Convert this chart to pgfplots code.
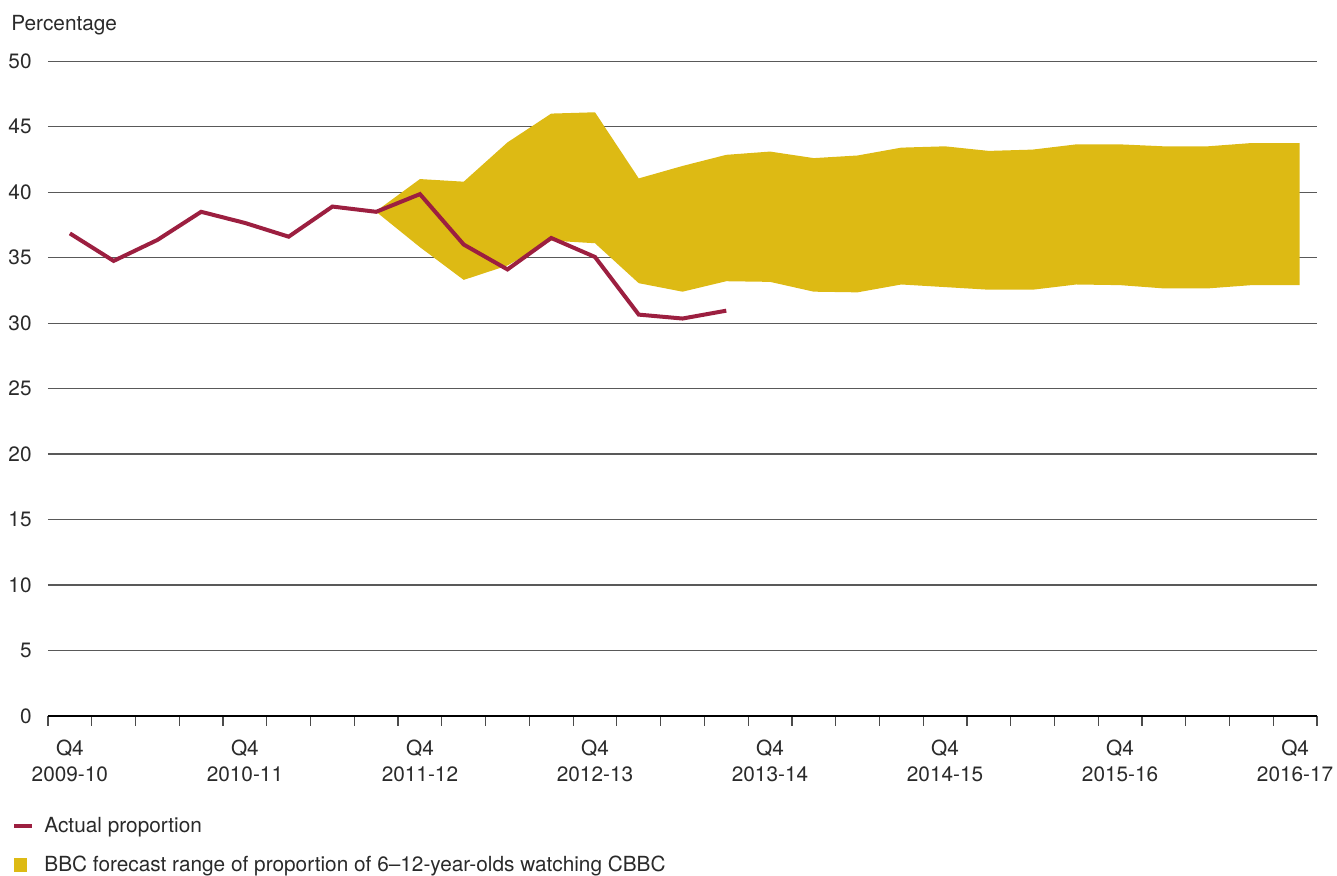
\documentclass[border=0pt]{standalone}
\usepackage{fontspec}
\setmainfont{TeX Gyre Heros}
\usepackage{pgfplots}
\pgfplotsset{compat=1.18}
\definecolor{band}{HTML}{DDBA14}
\definecolor{actual}{HTML}{9C1F40}
\definecolor{txt}{HTML}{2A2A2A}
\newcommand{\lf}{\fontsize{10.4}{13}\selectfont}
\begin{document}
\begin{tikzpicture}
\useasboundingbox (-24pt,-80pt) rectangle (644.5pt,358pt);
\begin{axis}[
  at={(0,0)}, anchor=south west, scale only axis,
  width=634.5pt, height=327.4pt,
  xmin=-0.5, xmax=28.5, ymin=0, ymax=50,
  ytick={0,5,...,50},
  xtick={0,4,...,28},
  xticklabels={{Q4\\2009-10},{Q4\\2010-11},{Q4\\2011-12},{Q4\\2012-13},{Q4\\2013-14},{Q4\\2014-15},{Q4\\2015-16},{Q4\\2016-17}},
  minor xtick={-0.5,0.5,...,28.5},
  major tick length=0pt,
  minor tick length=5pt,
  tick align=outside,
  minor x tick style={black!70, line width=0.6pt},
  ytick style={draw=none},
  axis lines*=left,
  y axis line style={draw=none},
  x axis line style={black, line width=0.6pt, -},
  ymajorgrids,
  grid style={black!65, line width=0.6pt},
  /pgf/number format/assume math mode=true,
  tick label style={font=\lf, text=txt},
  xticklabel style={align=center, inner sep=0pt, yshift=-12pt, anchor=north},
  yticklabel style={inner sep=0pt, xshift=-8pt, anchor=east},
  legend style={at={(axis description cs:-0.02837,-0.1512)}, anchor=north west,
    draw=none, fill=none, inner sep=0pt, row sep=8pt, font=\lf, text=txt,
    nodes={inner sep=1pt}},
  legend cell align=left,
]
\addlegendimage{legend image code/.code={\draw[actual, line width=2pt] (0pt,0pt) -- (9pt,0pt); \path[draw=none, fill=none] (0pt,0pt) -- (14pt,0pt);}}
\addlegendentry{Actual proportion}
\addlegendimage{legend image code/.code={\fill[band, draw=none] (0pt,-3.5pt) rectangle (6.5pt,3.5pt); \path[draw=none, fill=none] (0pt,0pt) -- (14pt,0pt);}}
\addlegendentry{BBC forecast range of proportion of 6–12-year-olds watching CBBC}

% forecast band: upper edge then lower edge reversed
\addplot[fill=band, draw=none, forget plot] coordinates {
 (7,38.55) (8,41.0) (9,40.8) (10,43.8) (11,46.0) (12,46.1) (13,41.05) (14,42.0)
 (15,42.85) (16,43.1) (17,42.6) (18,42.8) (19,43.4) (20,43.5) (21,43.15) (22,43.25)
 (23,43.65) (24,43.65) (25,43.5) (26,43.5) (27,43.75) (28.1,43.75)
 (28.1,32.9) (27,32.9) (26,32.65) (25,32.65) (24,32.9) (23,32.95) (22,32.55) (21,32.55)
 (20,32.75) (19,32.95) (18,32.35) (17,32.4) (16,33.15) (15,33.2) (14,32.4) (13,33.05)
 (12,36.1) (11,36.3) (10,34.4) (9,33.3) (8,35.8) (7,38.5)
};

\addplot[actual, line width=2pt, forget plot] coordinates {
 (0,36.85) (1,34.75) (2,36.35) (3,38.5) (4,37.65) (5,36.6) (6,38.9) (7,38.5)
 (8,39.85) (9,36.0) (10,34.1) (11,36.5) (12,35.05) (13,30.65) (14,30.35) (15,30.95)
};
\end{axis}
\node[anchor=base west, inner sep=0pt, font=\lf, text=txt] at (-18.5pt,342.9pt) {Percentage};
\end{tikzpicture}
\end{document}
